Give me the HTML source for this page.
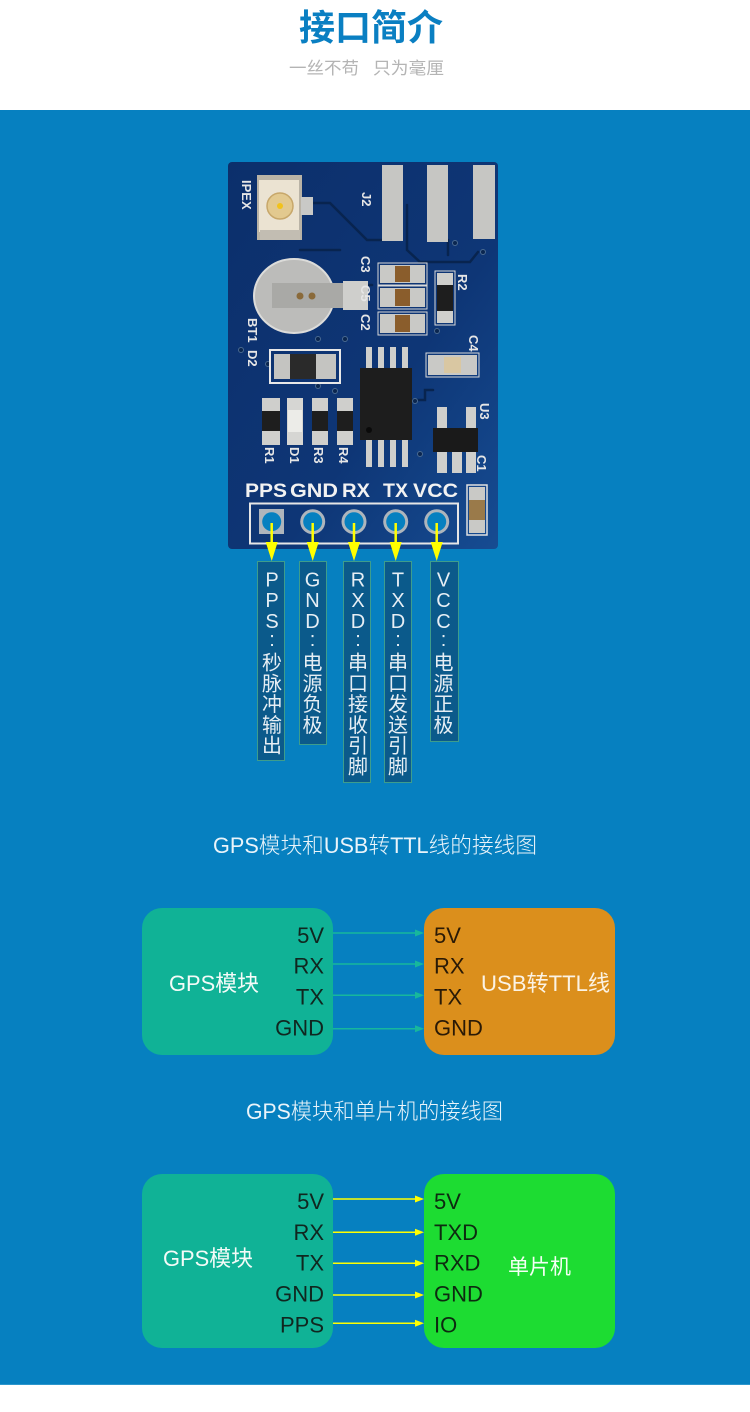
<!DOCTYPE html>
<html>
<head>
<meta charset="utf-8">
<style>
html,body{margin:0;padding:0;background:#fff;}
body{width:750px;height:1412px;position:relative;overflow:hidden;}
svg{position:absolute;left:0;top:0;}
.cn{font-family:"Liberation Sans","Noto Sans CJK SC","WenQuanYi Zen Hei",sans-serif;}
</style>
</head>
<body>
<svg width="750" height="1412" viewBox="0 0 750 1412" xmlns="http://www.w3.org/2000/svg">
<defs>
<linearGradient id="pcb" x1="0" y1="0" x2="1" y2="1">
<stop offset="0" stop-color="#0c2f6b"/>
<stop offset="0.6" stop-color="#0e3676"/>
<stop offset="1" stop-color="#164c92"/>
</linearGradient>
</defs>

<!-- header -->
<rect x="0" y="0" width="750" height="110" fill="#ffffff"/>
<text class="cn" x="371" y="40" text-anchor="middle" font-size="36" font-weight="bold" fill="#0a7fc2">接口简介</text>
<text class="cn" x="289" y="74" font-size="17" fill="#b4b4b4" textLength="70" lengthAdjust="spacingAndGlyphs">一丝不苟</text>
<text class="cn" x="373" y="74" font-size="17" fill="#b4b4b4" textLength="71" lengthAdjust="spacingAndGlyphs">只为毫厘</text>

<!-- blue background -->
<rect x="0" y="110" width="750" height="1275" fill="#0680c0"/>
<rect x="0" y="1384" width="750" height="1" fill="#2c96cc"/>

<!-- ================= PCB ================= -->
<rect x="228" y="162" width="270" height="387" rx="4" fill="url(#pcb)"/>
<!-- traces -->
<g fill="none" stroke="#08244f" stroke-width="2.5" stroke-linecap="round">
<path d="M313 203 L330 203 L367 240 L382 240"/>
<path d="M407 205 L407 250 L420 262 L470 262 L478 252"/>
<path d="M448 240 L448 255"/>
<path d="M345 285 L372 285"/>
<path d="M412 400 L425 400 L425 390 L433 390"/>
<path d="M300 250 L340 250"/>
</g>
<!-- vias -->
<g fill="#0a2650" stroke="#4a6a90" stroke-width="1">
<circle cx="455" cy="243" r="2.5"/>
<circle cx="483" cy="252" r="2.5"/>
<circle cx="318" cy="339" r="2.5"/>
<circle cx="345" cy="339" r="2.5"/>
<circle cx="318" cy="386" r="2.5"/>
<circle cx="268" cy="364" r="2.5"/>
<circle cx="241" cy="350" r="2.5"/>
<circle cx="335" cy="391" r="2.5"/>
<circle cx="415" cy="401" r="2.5"/>
<circle cx="437" cy="331" r="2.5"/>
<circle cx="420" cy="454" r="2.5"/>
</g>

<!-- IPEX -->
<rect x="257" y="175" width="45" height="65" fill="#b9b3a6"/>
<rect x="259" y="180" width="40" height="52" fill="#ebe3d2"/>
<circle cx="280" cy="206" r="13" fill="#e2c98f" stroke="#c7a76a" stroke-width="1.5"/>
<circle cx="280" cy="206" r="3" fill="#f2c21a"/>
<rect x="301" y="197" width="12" height="18" fill="#c9c9c6"/>
<rect x="260" y="230" width="40" height="10" fill="#c2bdb2"/>

<!-- J2 pads -->
<rect x="382" y="165" width="21" height="76" fill="#c6c6c3"/>
<rect x="427" y="165" width="21" height="77" fill="#c6c6c3"/>
<rect x="473" y="165" width="22" height="74" fill="#c6c6c3"/>

<!-- battery -->
<ellipse cx="294" cy="296" rx="40" ry="37" fill="#bcbcba" stroke="#dcdcda" stroke-width="2"/>
<rect x="272" y="283" width="72" height="25" fill="#a9a9a6"/>
<rect x="343" y="281" width="25" height="29" fill="#cfcfcc"/>
<circle cx="300" cy="296" r="3.5" fill="#8a6a3a"/>
<circle cx="312" cy="296" r="3.5" fill="#8a6a3a"/>

<!-- C3 C5 C2 -->
<g>
<rect x="378" y="263" width="49" height="22" fill="none" stroke="#d8d8d8" stroke-width="1"/>
<rect x="380" y="265" width="45" height="18" fill="#c9c9c6"/>
<rect x="395" y="266" width="15" height="16" fill="#8a5d2c"/>
<rect x="378" y="286" width="49" height="23" fill="none" stroke="#d8d8d8" stroke-width="1"/>
<rect x="380" y="288" width="45" height="19" fill="#c9c9c6"/>
<rect x="395" y="289" width="15" height="17" fill="#8a5d2c"/>
<rect x="378" y="312" width="49" height="23" fill="none" stroke="#d8d8d8" stroke-width="1"/>
<rect x="380" y="314" width="45" height="19" fill="#c9c9c6"/>
<rect x="395" y="315" width="15" height="17" fill="#8a5d2c"/>
</g>

<!-- R2 -->
<rect x="435" y="271" width="20" height="54" fill="none" stroke="#d8d8d8" stroke-width="1"/>
<rect x="437" y="273" width="16" height="50" fill="#cfcfcc"/>
<rect x="437" y="285" width="16" height="26" fill="#1e1e1e"/>

<!-- D2 -->
<rect x="270" y="350" width="70" height="33" fill="none" stroke="#e8e8e8" stroke-width="2"/>
<rect x="274" y="354" width="62" height="25" fill="#2a2a2a"/>
<rect x="274" y="354" width="16" height="25" fill="#c4c4c1"/>
<rect x="316" y="354" width="20" height="25" fill="#c4c4c1"/>

<!-- C4 -->
<rect x="426" y="353" width="53" height="24" fill="none" stroke="#d8d8d8" stroke-width="1"/>
<rect x="428" y="355" width="49" height="20" fill="#c9c9c6"/>
<rect x="444" y="357" width="17" height="16" fill="#d9c7a2"/>

<!-- IC -->
<g fill="#cfcfcc">
<rect x="366" y="347" width="6" height="22"/>
<rect x="378" y="347" width="6" height="22"/>
<rect x="390" y="347" width="6" height="22"/>
<rect x="402" y="347" width="6" height="22"/>
<rect x="366" y="439" width="6" height="28"/>
<rect x="378" y="439" width="6" height="28"/>
<rect x="390" y="439" width="6" height="28"/>
<rect x="402" y="439" width="6" height="28"/>
</g>
<rect x="360" y="368" width="52" height="72" fill="#1d1d1d"/>
<circle cx="369" cy="430" r="3" fill="#0a0a0a"/>

<!-- U3 -->
<g fill="#cfcfcc">
<rect x="437" y="407" width="10" height="22"/>
<rect x="466" y="407" width="10" height="22"/>
<rect x="437" y="451" width="10" height="22"/>
<rect x="452" y="451" width="10" height="22"/>
<rect x="466" y="451" width="10" height="22"/>
</g>
<rect x="433" y="428" width="45" height="24" fill="#1a1a1a"/>

<!-- R1 D1 R3 R4 -->
<g>
<rect x="262" y="398" width="18" height="47" fill="#cfcfcc"/>
<rect x="262" y="411" width="18" height="20" fill="#1e1e1e"/>
<rect x="287" y="398" width="16" height="47" fill="#d6d6d3"/>
<rect x="288" y="410" width="14" height="22" fill="#ecece8"/>
<rect x="312" y="398" width="16" height="47" fill="#cfcfcc"/>
<rect x="312" y="411" width="16" height="20" fill="#1e1e1e"/>
<rect x="337" y="398" width="16" height="47" fill="#cfcfcc"/>
<rect x="337" y="411" width="16" height="20" fill="#1e1e1e"/>
</g>

<!-- C1 -->
<rect x="467" y="485" width="20" height="50" fill="none" stroke="#e0e0e0" stroke-width="1.5"/>
<rect x="469" y="487" width="16" height="46" fill="#c9c9c6"/>
<rect x="469" y="500" width="16" height="20" fill="#9a7a4a"/>

<!-- silkscreen labels (rotated) -->
<g class="cn" font-size="13" font-weight="bold" fill="#e6e6e6">
<text transform="translate(242,180) rotate(90)">IPEX</text>
<text transform="translate(362,192) rotate(90)">J2</text>
<text transform="translate(361,256) rotate(90)">C3</text>
<text transform="translate(361,285) rotate(90)">C5</text>
<text transform="translate(361,314) rotate(90)">C2</text>
<text transform="translate(458,274) rotate(90)">R2</text>
<text transform="translate(248,318) rotate(90)">BT1</text>
<text transform="translate(248,350) rotate(90)">D2</text>
<text transform="translate(469,335) rotate(90)">C4</text>
<text transform="translate(480,403) rotate(90)">U3</text>
<text transform="translate(477,455) rotate(90)">C1</text>
<text transform="translate(265,447) rotate(90)">R1</text>
<text transform="translate(290,447) rotate(90)">D1</text>
<text transform="translate(314,447) rotate(90)">R3</text>
<text transform="translate(339,447) rotate(90)">R4</text>
</g>

<!-- pin names -->
<g font-family="Liberation Sans, sans-serif" font-size="19" font-weight="bold" fill="#f2f2f2">
<text x="245" y="497" textLength="42" lengthAdjust="spacingAndGlyphs">PPS</text>
<text x="290" y="497" textLength="48" lengthAdjust="spacingAndGlyphs">GND</text>
<text x="342" y="497" textLength="28" lengthAdjust="spacingAndGlyphs">RX</text>
<text x="383" y="497" textLength="25" lengthAdjust="spacingAndGlyphs">TX</text>
<text x="413" y="497" textLength="45" lengthAdjust="spacingAndGlyphs">VCC</text>
</g>
<rect x="250" y="503.5" width="208" height="40" fill="none" stroke="#e6e6e6" stroke-width="2"/>

<!-- holes -->
<rect x="259" y="509" width="25" height="25" fill="#aeb5bc"/>
<circle cx="271.7" cy="521.7" r="9.5" fill="#0680c0"/>
<g fill="#aeb5bc">
<circle cx="312.7" cy="521.7" r="12.5"/>
<circle cx="354" cy="521.7" r="12.5"/>
<circle cx="395.7" cy="521.7" r="12.5"/>
<circle cx="436.7" cy="521.7" r="12.5"/>
</g>
<g fill="#0680c0">
<circle cx="312.7" cy="521.7" r="9.5"/>
<circle cx="354" cy="521.7" r="9.5"/>
<circle cx="395.7" cy="521.7" r="9.5"/>
<circle cx="436.7" cy="521.7" r="9.5"/>
</g>

<!-- yellow arrows -->
<g stroke="#ffff00" stroke-width="2.5">
<line x1="271.7" y1="523" x2="271.7" y2="545"/>
<line x1="312.7" y1="523" x2="312.7" y2="545"/>
<line x1="354" y1="523" x2="354" y2="545"/>
<line x1="395.7" y1="523" x2="395.7" y2="545"/>
<line x1="436.7" y1="523" x2="436.7" y2="545"/>
</g>
<g fill="#ffff00">
<polygon points="265.7,542 277.7,542 271.7,561"/>
<polygon points="306.7,542 318.7,542 312.7,561"/>
<polygon points="348,542 360,542 354,561"/>
<polygon points="389.7,542 401.7,542 395.7,561"/>
<polygon points="430.7,542 442.7,542 436.7,561"/>
</g>

<!-- vertical label boxes -->
<g fill="#0b5a8b" stroke="#3e9d8c" stroke-width="1">
<rect x="257.5" y="561.5" width="27" height="199"/>
<rect x="299.5" y="561.5" width="27" height="183"/>
<rect x="343.5" y="561.5" width="27" height="221"/>
<rect x="384.5" y="561.5" width="27" height="221"/>
<rect x="430.5" y="561.5" width="28" height="180"/>
</g>
<g class="cn" font-size="20" fill="#e6eef4" text-anchor="middle">
<!-- PPS -->
<text x="272" y="586.3">P</text>
<text x="272" y="607.1">P</text>
<text x="272" y="627.9">S</text>
<text x="272" y="646">:</text>
<text x="272" y="669.5">秒</text>
<text x="272" y="690.3">脉</text>
<text x="272" y="711.1">冲</text>
<text x="272" y="731.9">输</text>
<text x="272" y="752.7">出</text>
<!-- GND -->
<text x="312.5" y="586.3">G</text>
<text x="312.5" y="607.1">N</text>
<text x="312.5" y="627.9">D</text>
<text x="312.5" y="646">:</text>
<text x="312.5" y="669.5">电</text>
<text x="312.5" y="690.3">源</text>
<text x="312.5" y="711.1">负</text>
<text x="312.5" y="731.9">极</text>
<!-- RXD -->
<text x="358" y="586.3">R</text>
<text x="358" y="607.1">X</text>
<text x="358" y="627.9">D</text>
<text x="358" y="646">:</text>
<text x="358" y="669.5">串</text>
<text x="358" y="690.3">口</text>
<text x="358" y="711.1">接</text>
<text x="358" y="731.9">收</text>
<text x="358" y="752.7">引</text>
<text x="358" y="773.5">脚</text>
<!-- TXD -->
<text x="398" y="586.3">T</text>
<text x="398" y="607.1">X</text>
<text x="398" y="627.9">D</text>
<text x="398" y="646">:</text>
<text x="398" y="669.5">串</text>
<text x="398" y="690.3">口</text>
<text x="398" y="711.1">发</text>
<text x="398" y="731.9">送</text>
<text x="398" y="752.7">引</text>
<text x="398" y="773.5">脚</text>
<!-- VCC -->
<text x="443.5" y="586.3">V</text>
<text x="443.5" y="607.1">C</text>
<text x="443.5" y="627.9">C</text>
<text x="443.5" y="646">:</text>
<text x="443.5" y="669.5">电</text>
<text x="443.5" y="690.3">源</text>
<text x="443.5" y="711.1">正</text>
<text x="443.5" y="731.9">极</text>
</g>

<!-- ================= Diagram 1 ================= -->
<text class="cn" x="213" y="853" font-size="22" font-weight="300" fill="#eaf4fa" textLength="324" lengthAdjust="spacingAndGlyphs">GPS模块和USB转TTL线的接线图</text>

<rect x="142" y="908" width="191" height="147" rx="20" fill="#10b296"/>
<rect x="424" y="908" width="191" height="147" rx="20" fill="#db8f1c"/>

<g stroke="#17b79c" stroke-width="1.5">
<line x1="333" y1="933" x2="418" y2="933"/>
<line x1="333" y1="964" x2="418" y2="964"/>
<line x1="333" y1="995.3" x2="418" y2="995.3"/>
<line x1="333" y1="1028.7" x2="418" y2="1028.7"/>
</g>
<g fill="#17b79c">
<polygon points="415,929.5 424,933 415,936.5"/>
<polygon points="415,960.5 424,964 415,967.5"/>
<polygon points="415,991.8 424,995.3 415,998.8"/>
<polygon points="415,1025.2 424,1028.7 415,1032.2"/>
</g>

<g class="cn" font-size="22" fill="#10261f" text-anchor="end">
<text x="324" y="943">5V</text>
<text x="324" y="973.5">RX</text>
<text x="324" y="1004.5">TX</text>
<text x="324" y="1035.3">GND</text>
</g>
<text class="cn" x="169" y="991" font-size="22" fill="#f4fbf8" textLength="90" lengthAdjust="spacingAndGlyphs">GPS模块</text>

<g class="cn" font-size="22" fill="#2a1a06">
<text x="434" y="943">5V</text>
<text x="434" y="973.5">RX</text>
<text x="434" y="1004.5">TX</text>
<text x="434" y="1035.3">GND</text>
</g>
<text class="cn" x="481" y="991" font-size="22" fill="#fbf3e4" textLength="129" lengthAdjust="spacingAndGlyphs">USB转TTL线</text>

<!-- ================= Diagram 2 ================= -->
<text class="cn" x="246" y="1119" font-size="22" font-weight="300" fill="#eaf4fa" textLength="257" lengthAdjust="spacingAndGlyphs">GPS模块和单片机的接线图</text>

<rect x="142" y="1174" width="191" height="174" rx="20" fill="#10b296"/>
<rect x="424" y="1174" width="191" height="174" rx="20" fill="#1ddc32"/>

<g stroke="#ffff00" stroke-width="1.5">
<line x1="333" y1="1199" x2="418" y2="1199"/>
<line x1="333" y1="1232.3" x2="418" y2="1232.3"/>
<line x1="333" y1="1263.3" x2="418" y2="1263.3"/>
<line x1="333" y1="1295" x2="418" y2="1295"/>
<line x1="333" y1="1323.3" x2="418" y2="1323.3"/>
</g>
<g fill="#ffff00">
<polygon points="415,1195.5 424,1199 415,1202.5"/>
<polygon points="415,1228.8 424,1232.3 415,1235.8"/>
<polygon points="415,1259.8 424,1263.3 415,1266.8"/>
<polygon points="415,1291.5 424,1295 415,1298.5"/>
<polygon points="415,1319.8 424,1323.3 415,1326.8"/>
</g>

<g class="cn" font-size="22" fill="#10261f" text-anchor="end">
<text x="324" y="1209">5V</text>
<text x="324" y="1240">RX</text>
<text x="324" y="1270.7">TX</text>
<text x="324" y="1301.7">GND</text>
<text x="324" y="1332.7">PPS</text>
</g>
<text class="cn" x="163" y="1266" font-size="22" fill="#f4fbf8" textLength="90" lengthAdjust="spacingAndGlyphs">GPS模块</text>

<g class="cn" font-size="22" fill="#0d2a10">
<text x="434" y="1209">5V</text>
<text x="434" y="1240">TXD</text>
<text x="434" y="1270.7">RXD</text>
<text x="434" y="1301.7">GND</text>
<text x="434" y="1332.7">IO</text>
</g>
<text class="cn" x="508" y="1274" font-size="21" fill="#f4fff4" textLength="63" lengthAdjust="spacingAndGlyphs">单片机</text>
</svg>
</body>
</html>
